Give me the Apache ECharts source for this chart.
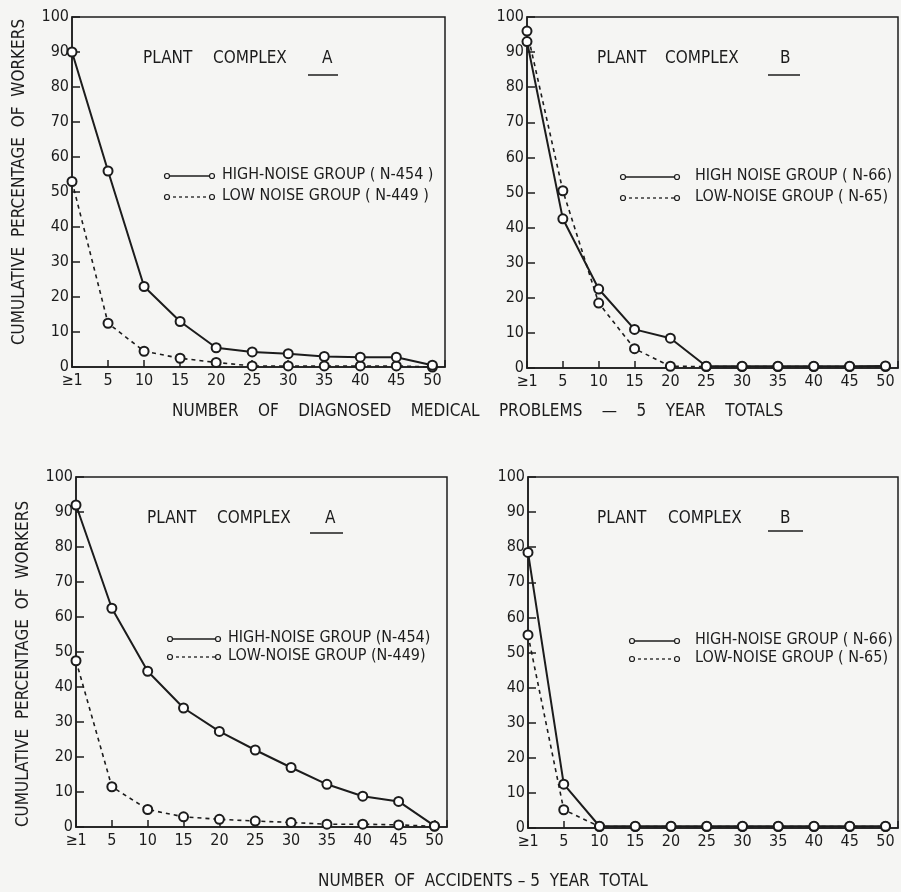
<!DOCTYPE html>
<html>
<head>
<meta charset="utf-8">
<script src="https://cdn.jsdelivr.net/npm/echarts@6/dist/echarts.min.js"></script>
<style>
html,body{margin:0;padding:0;background:#f5f5f3;}
#chart{width:901px;height:892px;}
</style>
</head>
<body>
<div id="chart"></div>
<script>
// ---- data ----
const xLabels = ['≥1','5','10','15','20','25','30','35','40','45','50'];
const yTicks = [0,10,20,30,40,50,60,70,80,90,100];

const medA_high = [90, 56, 23, 13, 5.5, 4.3, 3.8, 3, 2.8, 2.8, 0.5];
const medA_low  = [53, 12.5, 4.5, 2.5, 1.3, 0.3, 0.3, 0.3, 0.3, 0.3, 0];
const medB_high = [93, 42.5, 22.5, 11, 8.5, 0.5, 0.5, 0.5, 0.5, 0.5, 0.6];
const medB_low  = [96, 50.5, 18.5, 5.5, 0.5, 0.4, 0.4, 0.4, 0.4, 0.4, 0.4];
const accA_high = [92, 62.5, 44.5, 34, 27.3, 22, 17, 12.2, 8.8, 7.3, 0.3];
const accA_low  = [47.5, 11.5, 5, 2.9, 2.2, 1.7, 1.3, 0.8, 0.8, 0.6, 0.2];
const accB_high = [78.5, 12.5, 0.5, 0.5, 0.5, 0.5, 0.5, 0.5, 0.5, 0.5, 0.5];
const accB_low  = [55, 5.2, 0.4, 0.4, 0.4, 0.4, 0.4, 0.4, 0.4, 0.4, 0.4];

const legendText = [
  ['HIGH-NOISE GROUP ( N-454 )', 'LOW NOISE GROUP ( N-449 )'],
  ['HIGH NOISE GROUP ( N-66)', 'LOW-NOISE GROUP ( N-65)'],
  ['HIGH-NOISE GROUP (N-454)', 'LOW-NOISE GROUP (N-449)'],
  ['HIGH-NOISE GROUP ( N-66)', 'LOW-NOISE GROUP ( N-65)']
];
const panelLetters = ['A','B','A','B'];
const yTitle = 'CUMULATIVE  PERCENTAGE  OF  WORKERS';
const xTitleTop = 'NUMBER    OF    DIAGNOSED    MEDICAL    PROBLEMS    —    5    YEAR    TOTALS';
const xTitleBottom = 'NUMBER  OF  ACCIDENTS – 5  YEAR  TOTAL';

// ---- layout ----
const FONT = "'DejaVu Sans Condensed','Liberation Sans Narrow','Roboto Condensed','DejaVu Sans',sans-serif";
const INK = '#1c1c1c';
const BG = '#f5f5f3';
const grids = [
  {left:72, top:17, width:373, height:350},
  {left:527, top:17, width:371, height:351},
  {left:76, top:477, width:371, height:350},
  {left:528, top:477, width:372, height:351}
];
const seriesData = [
  [medA_high, medA_low],
  [medB_high, medB_low],
  [accA_high, accA_low],
  [accB_high, accB_low]
];
const yNamePadding = [[0,0,0,20], null, [0,24,0,0], null];

const chart = echarts.init(document.getElementById('chart'), null, {renderer:'canvas'});

const option = {
  backgroundColor: BG,
  animation: false,
  textStyle: {fontFamily: FONT, color: INK},
  grid: grids.map(g => Object.assign({show:true, borderColor:INK, borderWidth:1.5, backgroundColor:'transparent'}, g)),
  xAxis: grids.map((g,i) => ({
    gridIndex:i, type:'value', min:0, max:10.35, interval:1,
    axisLine:{show:true, onZero:false, lineStyle:{color:INK, width:1.5}},
    axisTick:{show:true, inside:true, length:7, lineStyle:{color:INK, width:1.5}},
    splitLine:{show:false},
    axisLabel:{
      margin:6, fontSize:16, color:INK, fontFamily:FONT,
      formatter: v => Number.isInteger(v) && xLabels[v] !== undefined ? xLabels[v] : ''
    }
  })),
  yAxis: grids.map((g,i) => ({
    gridIndex:i, type:'value', min:0, max:100, interval:10,
    axisLine:{show:true, lineStyle:{color:INK, width:1.5}},
    axisTick:{show:true, inside:true, length:8, lineStyle:{color:INK, width:1.5}},
    splitLine:{show:false},
    axisLabel:{margin:3, fontSize:16, color:INK, fontFamily:FONT,
      formatter: v => yTicks.indexOf(v) >= 0 ? String(v) : ''},
    name: (i % 2 === 0) ? yTitle : '',
    nameLocation:'middle', nameRotate:90, nameGap:44,
    nameTextStyle:{fontSize:17, color:INK, fontFamily:FONT, padding: yNamePadding[i] || 0}
  })),
  series: []
};

seriesData.forEach((pair, i) => {
  option.series.push({
    type:'line', xAxisIndex:i, yAxisIndex:i,
    data: pair[0].map((v,k) => [k, v]),
    symbol:'emptyCircle', symbolSize:9,
    lineStyle:{color:INK, width:2},
    itemStyle:{color:INK, borderColor:INK, borderWidth:1.5},
    z:3
  });
  option.series.push({
    type:'line', xAxisIndex:i, yAxisIndex:i,
    data: pair[1].map((v,k) => [k, v]),
    symbol:'emptyCircle', symbolSize:9,
    lineStyle:{color:INK, width:1.6, type:[4,4]},
    itemStyle:{color:INK, borderColor:INK, borderWidth:1.5},
    z:2
  });
});

// ---- decorations: panel titles, legends, shared x titles ----
const titlePos = [
  {px:143, cx:213, lx:322, y:60, ux1:308, ux2:338, uy:75},
  {px:597, cx:665, lx:780, y:60, ux1:768, ux2:800, uy:75},
  {px:147, cx:217, lx:325, y:520, ux1:310, ux2:343, uy:533},
  {px:597, cx:668, lx:780, y:520, ux1:768, ux2:803, uy:531}
];
const legendPos = [
  {x1:167, x2:212, y1:176, y2:197, tx:222},
  {x1:623, x2:677, y1:177, y2:198, tx:695},
  {x1:170, x2:218, y1:639, y2:657, tx:228},
  {x1:632, x2:677, y1:641, y2:659, tx:695}
];
const graphics = [];
titlePos.forEach((t,i) => {
  graphics.push({type:'text', left:t.px, top:t.y-10, style:{text:'PLANT', font:'17px '+FONT, fill:INK}});
  graphics.push({type:'text', left:t.cx, top:t.y-10, style:{text:'COMPLEX', font:'17px '+FONT, fill:INK}});
  graphics.push({type:'text', left:t.lx, top:t.y-10, style:{text:panelLetters[i], font:'17px '+FONT, fill:INK}});
  graphics.push({type:'line', shape:{x1:t.ux1, y1:t.uy, x2:t.ux2, y2:t.uy}, style:{stroke:INK, lineWidth:1.5}});
});
legendPos.forEach((p,i) => {
  [[p.y1, null],[p.y2,[3,3]]].forEach((row, r) => {
    graphics.push({type:'line', shape:{x1:p.x1, y1:row[0], x2:p.x2, y2:row[0]},
      style:{stroke:INK, lineWidth: r===0?1.6:1.3, lineDash: row[1]}});
    [p.x1, p.x2].forEach(cx => graphics.push({type:'circle', shape:{cx:cx, cy:row[0], r:2.5},
      style:{fill:BG, stroke:INK, lineWidth:1.2}}));
    graphics.push({type:'text', left:p.tx, top:row[0]-9,
      style:{text:legendText[i][r], font:'16px '+FONT, fill:INK}});
  });
});
graphics.push({type:'text', left:172, top:403, style:{text:xTitleTop, font:'17px '+FONT, fill:INK}});
graphics.push({type:'text', left:318, top:873, style:{text:xTitleBottom, font:'17px '+FONT, fill:INK}});
option.graphic = graphics;

chart.setOption(option);
</script>
</body>
</html>
